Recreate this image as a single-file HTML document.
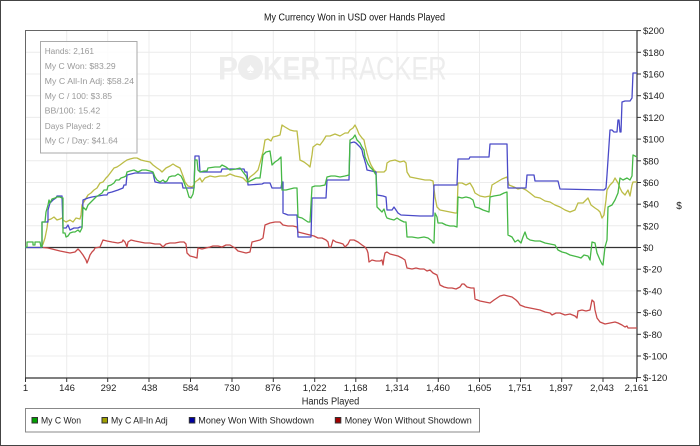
<!DOCTYPE html>
<html><head><meta charset="utf-8">
<style>
html,body{margin:0;padding:0;background:#fff;}
svg{display:block;}
text{font-family:"Liberation Sans",Arial,sans-serif;}
</style></head>
<body>
<svg width="700" height="446" viewBox="0 0 700 446" xmlns="http://www.w3.org/2000/svg">
<rect x="0" y="0" width="700" height="446" fill="#fff"/>
<rect x="0.5" y="0.5" width="699" height="445" fill="none" stroke="#444" stroke-width="1"/>

<!-- title -->
<text x="264" y="20.3" font-size="10" fill="#111" textLength="181" lengthAdjust="spacingAndGlyphs">My Currency Won in USD over Hands Played</text>

<!-- grid -->
<g stroke="#ececec" stroke-width="1">
<line x1="25" y1="52.3" x2="637" y2="52.3"/>
<line x1="25" y1="74" x2="637" y2="74"/>
<line x1="25" y1="95.7" x2="637" y2="95.7"/>
<line x1="25" y1="117.4" x2="637" y2="117.4"/>
<line x1="25" y1="139.1" x2="637" y2="139.1"/>
<line x1="25" y1="160.8" x2="637" y2="160.8"/>
<line x1="25" y1="182.5" x2="637" y2="182.5"/>
<line x1="25" y1="204.2" x2="637" y2="204.2"/>
<line x1="25" y1="225.8" x2="637" y2="225.8"/>
<line x1="25" y1="269.2" x2="637" y2="269.2"/>
<line x1="25" y1="290.9" x2="637" y2="290.9"/>
<line x1="25" y1="312.6" x2="637" y2="312.6"/>
<line x1="25" y1="334.3" x2="637" y2="334.3"/>
<line x1="25" y1="356" x2="637" y2="356"/>
<line x1="66.7" y1="31" x2="66.7" y2="378"/>
<line x1="107.7" y1="31" x2="107.7" y2="378"/>
<line x1="149" y1="31" x2="149" y2="378"/>
<line x1="190.5" y1="31" x2="190.5" y2="378"/>
<line x1="232" y1="31" x2="232" y2="378"/>
<line x1="273.3" y1="31" x2="273.3" y2="378"/>
<line x1="314.7" y1="31" x2="314.7" y2="378"/>
<line x1="355.8" y1="31" x2="355.8" y2="378"/>
<line x1="397" y1="31" x2="397" y2="378"/>
<line x1="438.3" y1="31" x2="438.3" y2="378"/>
<line x1="479.5" y1="31" x2="479.5" y2="378"/>
<line x1="520.5" y1="31" x2="520.5" y2="378"/>
<line x1="561.7" y1="31" x2="561.7" y2="378"/>
<line x1="603" y1="31" x2="603" y2="378"/>
</g>

<!-- watermark -->
<g fill="#ededed">
<text x="218" y="79.3" font-size="32" font-weight="bold" textLength="20" lengthAdjust="spacingAndGlyphs">P</text>
<circle cx="250.5" cy="67.5" r="12.5"/>
<text x="263" y="79.3" font-size="32" font-weight="bold" textLength="57" lengthAdjust="spacingAndGlyphs">KER</text>
<text x="325" y="79.3" font-size="32" textLength="121.7" lengthAdjust="spacingAndGlyphs">TRACKER</text>
</g>
<text x="250.5" y="73" font-size="14" fill="#fff" text-anchor="middle">♠</text>

<!-- plot border -->
<rect x="25.5" y="30.5" width="611.5" height="347.5" fill="none" stroke="#666" stroke-width="1"/>
<line x1="637" y1="30.5" x2="637" y2="378" stroke="#333" stroke-width="1.2"/>
<line x1="25" y1="378" x2="637" y2="378" stroke="#333" stroke-width="1.2"/>

<!-- zero line -->
<line x1="25" y1="247.5" x2="637" y2="247.5" stroke="#333" stroke-width="1.2"/>

<!-- series -->
<g fill="none" stroke-width="1.3" stroke-linejoin="round">
<polyline stroke="#c84a4a" points="43,247.5 48,248 52,249 56,250 60,251 65,252 70,253 75,252 78,249 80,251 83,255 86,260 87,263 89,258 90,255 92,252 94,250 95,248 100,247 103,240 107,241 112,242 118,243 122,242 123,240 125,242 127,247 128,242 131,240 135,241 140,242 145,243 150,243 155,244 160,244 163,247 166,244 170,243 175,243 180,242 184,242 186,244 187,253 190,256 194,257 197,258 198,248 202,249 206,248 210,247 213,246 218,246 222,247 226,245 230,245 235,248 238,251 242,252 246,253 250,252 252,242 256,241 260,240 263,238 265,225 270,223 275,222 280,222 283,225 288,226 293,226 297,227 298,232 302,233 306,234 310,235 314,236 318,238 322,238 326,240 328,242 329,247 331,247 333,240 336,242 340,243 343,244 345,247 348,244 350,240 354,240 358,242 362,245 365,247 367,250 368,253 369,262 372,260 376,261 380,261 382,260 383,265 384,258 385,253 387,252 390,254 394,255 398,256 402,258 405,260 407,268 412,269 416,268 420,269 424,269 427,271 430,270 433,273 437,275 440,285 444,287 448,288 452,288 456,289 460,287 462,284 464,284 467,287 471,288 474,288 475,299 480,301 485,302 490,303 494,300 497,298 500,296 504,295 508,296 512,297 516,300 518,302 520,305 525,307 530,308 535,309 540,310 545,312 550,313 552,315 556,313 560,313 565,315 570,314 575,316 577,318 578,311 582,310 586,311 590,310 592,300 594,302 595,310 597,318 600,322 605,324 610,323 615,322 618,323 622,325 625,327 627,326 628,328 632,328 637,328"/>
<polyline stroke="#bcbc46" points="25,247.5 41,247.5 43,244 45,238 47,228 48,220 51,219 54,217 57,220 60,219 62,218 63,220 66,222 70,220 73,222 76,218 80,219 81,215 82,205 85,200 88,195 91,193 94,190 97,188 100,183 103,182 106,178 108,176 111,172 114,168 117,167 120,165 124,162 127,160 130,159 134,158 137,158 141,160 145,161 150,162 153,165 157,168 160,170 162,172 166,168 170,166 173,164 176,166 180,168 183,176 185,182 188,186 192,187 194,185 195,182 198,180 200,178 202,182 205,178 210,176 215,177 220,176 226,176 230,174 235,176 240,177 243,178 246,181 247,182 250,177 254,174 258,170 260,163 263,152 265,140 268,139 271,141 273,137 277,136 280,135 282,125 285,127 290,130 294,131 297,131 298,140 300,160 304,162 308,165 310,167 312,155 313,147 317,144 320,145 323,141 326,136 330,136 335,134 340,136 345,133 348,133 350,130 353,128 355,125 357,129 359,134 362,138 364,140 365,145 367,153 369,160 371,165 374,170 376,172 380,172 384,172 386,170 387,163 390,161 395,160 400,162 404,161 406,163 407,172 410,177 415,178 420,179 425,180 430,180 433,181 435,197 437,207 440,210 445,211 450,212 455,213 457,213 458,183 462,183 466,185 470,183 473,188 475,193 480,196 485,197 490,196 492,185 497,182 502,179 507,177 509,185 514,187 518,189 522,188 526,190 530,193 535,197 540,198 545,201 550,202 555,205 560,207 565,210 570,212 575,210 578,203 583,203 588,198 591,205 595,208 598,210 600,212 602,218 604,215 606,200 607,190 610,185 613,182 615,178 618,183 620,188 622,192 625,195 628,190 630,196 632,185 633,182 637,182"/>
<polyline stroke="#4a4ac8" points="25,247.5 42,247.5 42,222 48,222 48,210 50,203 53,200 56,198 57,196 62,196 63,228 66,228 68,225 70,230 74,228 78,228 80,227 82,227 83,200 88,198 92,197 98,196 104,195 107,195 108,193 112,192 118,190 123,188 124,185 126,185 127,175 135,173 150,173 153,173 155,182 160,183 175,183 182,183 183,188 194,188 195,156 199,156 200,172 221,172 222,169 244,169 245,172 247,172 248,185 262,184 264,183 270,183 272,188 281,188 282,182 283,182 283,213 288,215 297,215 298,237 305,237 311,237 312,198 326,198 327,180 349,180 350,143 354,142 356,143 358,145 360,147 362,150 363,155 364,158 366,165 367,170 376,172 377,195 383,196 386,197 387,210 392,210 394,207 396,210 398,213 401,215 420,216 433,216 434,185 457,185 458,159 469,159 470,157 489,157 490,144 507,144 508,188 526,188 527,175 534,175 535,181 558,181 560,189 604,190 606,188 607,175 610,130 612,130 614,132 617,132 618,120 619,120 620,132 621,132 622,102 625,101 630,101 632,98 633,73 637,73"/>
<polyline stroke="#46b846" points="25,247 27,247 27,242 33,242 33,245 35,245 35,242 40,242 41,247 42,247 42,222 45,222 46,212 48,205 49,200 50,203 52,199 55,198 57,197 60,197 62,198 63,198 63,233 65,233 66,237 68,236 70,233 73,232 75,232 78,230 80,232 82,228 83,207 86,210 88,205 90,203 93,200 96,197 99,195 102,193 104,190 107,190 108,186 111,185 114,183 116,180 119,180 121,178 124,177 126,176 127,172 130,171 134,170 138,172 142,170 146,170 150,171 153,172 155,177 157,180 160,182 163,180 165,182 167,181 169,177 172,176 175,176 178,174 181,176 183,180 185,185 187,190 189,197 191,198 193,194 194,188 195,160 197,160 198,170 200,172 204,171 207,171 208,168 215,167 220,167 222,165 226,167 230,170 236,169 240,168 243,172 246,176 248,182 252,180 256,178 260,178 263,155 266,152 270,151 272,165 275,162 278,160 281,157 282,190 286,190 290,189 294,188 297,188 298,217 302,218 305,220 308,222 310,222 312,187 315,186 320,186 325,185 327,177 331,176 335,176 340,177 345,176 349,175 350,140 353,138 355,135 357,140 360,143 362,147 364,150 365,157 368,164 370,167 373,170 376,175 377,207 380,210 382,212 384,209 386,216 387,218 390,219 394,220 397,218 400,220 404,222 406,222 407,237 412,237 418,238 424,237 428,238 432,241 433,243 434,243 435,213 437,217 438,223 442,223 446,225 450,226 454,226 457,227 458,197 462,198 466,197 470,198 473,200 475,207 479,208 483,210 486,211 489,212 490,197 494,196 500,195 504,193 507,192 508,235 512,237 515,242 518,240 521,243 523,237 525,232 527,238 530,240 535,241 540,241 545,243 550,244 555,245 558,250 562,252 566,253 570,255 574,256 578,257 581,258 584,255 588,256 590,260 592,242 595,243 597,253 600,260 602,264 603,265 605,247 607,240 608,207 612,205 615,200 618,193 620,178 623,180 627,178 630,180 632,176 633,155 637,157"/>
</g>

<!-- right axis ticks & labels -->
<g stroke="#333" stroke-width="1">
<line x1="637" y1="30.6" x2="641" y2="30.6"/>
<line x1="637" y1="52.3" x2="641" y2="52.3"/>
<line x1="637" y1="74" x2="641" y2="74"/>
<line x1="637" y1="95.7" x2="641" y2="95.7"/>
<line x1="637" y1="117.4" x2="641" y2="117.4"/>
<line x1="637" y1="139.1" x2="641" y2="139.1"/>
<line x1="637" y1="160.8" x2="641" y2="160.8"/>
<line x1="637" y1="182.5" x2="641" y2="182.5"/>
<line x1="637" y1="204.2" x2="641" y2="204.2"/>
<line x1="637" y1="225.8" x2="641" y2="225.8"/>
<line x1="637" y1="247.5" x2="641" y2="247.5"/>
<line x1="637" y1="269.2" x2="641" y2="269.2"/>
<line x1="637" y1="290.9" x2="641" y2="290.9"/>
<line x1="637" y1="312.6" x2="641" y2="312.6"/>
<line x1="637" y1="334.3" x2="641" y2="334.3"/>
<line x1="637" y1="356" x2="641" y2="356"/>
<line x1="637" y1="377.6" x2="641" y2="377.6"/>
</g>
<g font-size="9.5" fill="#222">
<text x="643" y="34.1">$200</text>
<text x="643" y="55.8">$180</text>
<text x="643" y="77.5">$160</text>
<text x="643" y="99.2">$140</text>
<text x="643" y="120.9">$120</text>
<text x="643" y="142.6">$100</text>
<text x="643" y="164.3">$80</text>
<text x="643" y="186">$60</text>
<text x="643" y="207.7">$40</text>
<text x="643" y="229.3">$20</text>
<text x="643" y="251">$0</text>
<text x="643" y="272.7">$-20</text>
<text x="643" y="294.4">$-40</text>
<text x="643" y="316.1">$-60</text>
<text x="643" y="337.8">$-80</text>
<text x="643" y="359.5">$-100</text>
<text x="643" y="381.1">$-120</text>
</g>
<text x="679" y="209" font-size="10" fill="#222" text-anchor="middle">$</text>

<!-- bottom axis ticks & labels -->
<g stroke="#333" stroke-width="1">
<line x1="25.5" y1="378" x2="25.5" y2="382"/>
<line x1="66.7" y1="378" x2="66.7" y2="382"/>
<line x1="107.7" y1="378" x2="107.7" y2="382"/>
<line x1="149" y1="378" x2="149" y2="382"/>
<line x1="190.5" y1="378" x2="190.5" y2="382"/>
<line x1="232" y1="378" x2="232" y2="382"/>
<line x1="273.3" y1="378" x2="273.3" y2="382"/>
<line x1="314.7" y1="378" x2="314.7" y2="382"/>
<line x1="355.8" y1="378" x2="355.8" y2="382"/>
<line x1="397" y1="378" x2="397" y2="382"/>
<line x1="438.3" y1="378" x2="438.3" y2="382"/>
<line x1="479.5" y1="378" x2="479.5" y2="382"/>
<line x1="520.5" y1="378" x2="520.5" y2="382"/>
<line x1="561.7" y1="378" x2="561.7" y2="382"/>
<line x1="603" y1="378" x2="603" y2="382"/>
<line x1="636.5" y1="378" x2="636.5" y2="382"/>
</g>
<g font-size="9.5" fill="#222" text-anchor="middle">
<text x="25.5" y="391">1</text>
<text x="67" y="391">146</text>
<text x="108.5" y="391">292</text>
<text x="149.5" y="391">438</text>
<text x="190.7" y="391">584</text>
<text x="232" y="391">730</text>
<text x="273" y="391">876</text>
<text x="314.7" y="391">1,022</text>
<text x="355.7" y="391">1,168</text>
<text x="397" y="391">1,314</text>
<text x="438" y="391">1,460</text>
<text x="479.5" y="391">1,605</text>
<text x="520" y="391">1,751</text>
<text x="561" y="391">1,897</text>
<text x="602" y="391">2,043</text>
<text x="636.5" y="391">2,161</text>
</g>
<text x="301.7" y="404.3" font-size="10" fill="#222" textLength="57.6" lengthAdjust="spacingAndGlyphs">Hands Played</text>

<!-- stats box -->
<rect x="40.5" y="41.5" width="96.5" height="111.5" fill="#fff" fill-opacity="0.85" stroke="#aaa" stroke-width="1"/>
<g font-size="8.7" fill="#999">
<text x="44.7" y="54" textLength="49.3" lengthAdjust="spacingAndGlyphs">Hands: 2,161</text>
<text x="44.7" y="69" textLength="71" lengthAdjust="spacingAndGlyphs">My C Won: $83.29</text>
<text x="44.7" y="84" textLength="89.3" lengthAdjust="spacingAndGlyphs">My C All-In Adj: $58.24</text>
<text x="44.7" y="99" textLength="67.3" lengthAdjust="spacingAndGlyphs">My C / 100: $3.85</text>
<text x="44.7" y="113.6" textLength="55.6" lengthAdjust="spacingAndGlyphs">BB/100: 15.42</text>
<text x="44.7" y="129" textLength="56" lengthAdjust="spacingAndGlyphs">Days Played: 2</text>
<text x="44.7" y="143.6" textLength="73" lengthAdjust="spacingAndGlyphs">My C / Day: $41.64</text>
</g>

<!-- legend -->
<rect x="25.5" y="408.5" width="454" height="23.5" fill="#fff" stroke="#888" stroke-width="1"/>
<g stroke="#333" stroke-width="1">
<rect x="32" y="417.5" width="5.5" height="5.5" fill="#00a000"/>
<rect x="102" y="417.5" width="5.5" height="5.5" fill="#a0a000"/>
<rect x="189.3" y="417.5" width="5.5" height="5.5" fill="#0000a0"/>
<rect x="335.3" y="417.5" width="5.5" height="5.5" fill="#a00000"/>
</g>
<g font-size="9" fill="#222">
<text x="41" y="423.6" textLength="40" lengthAdjust="spacingAndGlyphs">My C Won</text>
<text x="111" y="423.6" textLength="56.7" lengthAdjust="spacingAndGlyphs">My C All-In Adj</text>
<text x="198.3" y="423.6" textLength="115.7" lengthAdjust="spacingAndGlyphs">Money Won With Showdown</text>
<text x="344.7" y="423.6" textLength="127" lengthAdjust="spacingAndGlyphs">Money Won Without Showdown</text>
</g>
</svg>
</body></html>
